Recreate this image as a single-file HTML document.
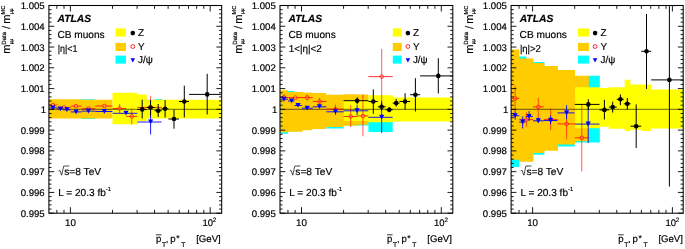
<!DOCTYPE html>
<html><head><meta charset="utf-8"><title>ATLAS CB muons mass scale</title>
<style>
html,body{margin:0;padding:0;background:#fff;}
svg{display:block;font-family:"Liberation Sans",sans-serif;filter:blur(0.35px);}
text{fill:#000;stroke:#000;stroke-width:0.18px;text-rendering:geometricPrecision;}
</style></head>
<body>
<svg width="685" height="249" viewBox="0 0 685 249">
<rect width="685" height="249" fill="#fff"/>
<g transform="translate(0,0)">
<path d="M81.7 99.3H95.3V119.0H81.7Z" fill="#00ffff"/><path d="M155.0 99.0H162.0V100.0H155.0Z" fill="#00ffff"/><path d="M49.2 99.3H81.7V99.8H112.5V118.6H81.7V118.6H49.2Z" fill="#ffcc00"/><path d="M112.5 92.7H137.3V94.5H146.7V99.7H221.7V118.5H146.7V121.0H137.3V124.3H112.5Z" fill="#ffff00"/><line x1="48.9" y1="109.3" x2="221.7" y2="109.3" stroke="#000" stroke-width="0.6"/><line x1="49.2" y1="105.1" x2="57.0" y2="105.1" stroke="#ff0000" stroke-width="0.8"/><circle cx="52.9" cy="105.1" r="1.8" fill="#fff" fill-opacity="0.25" stroke="#ff0000" stroke-width="0.72"/><line x1="57.0" y1="107.4" x2="70.8" y2="107.4" stroke="#ff0000" stroke-width="0.8"/><circle cx="64.2" cy="107.4" r="1.8" fill="#fff" fill-opacity="0.25" stroke="#ff0000" stroke-width="0.72"/><line x1="70.8" y1="106.1" x2="81.7" y2="106.1" stroke="#ff0000" stroke-width="0.8"/><circle cx="76.1" cy="106.1" r="1.8" fill="#fff" fill-opacity="0.25" stroke="#ff0000" stroke-width="0.72"/><line x1="81.7" y1="108.6" x2="95.3" y2="108.6" stroke="#ff0000" stroke-width="0.8"/><circle cx="88.5" cy="108.6" r="1.8" fill="#fff" fill-opacity="0.25" stroke="#ff0000" stroke-width="0.72"/><line x1="95.3" y1="106.0" x2="112.5" y2="106.0" stroke="#ff0000" stroke-width="0.8"/><circle cx="104.4" cy="106.0" r="1.8" fill="#fff" fill-opacity="0.25" stroke="#ff0000" stroke-width="0.72"/><line x1="112.5" y1="108.5" x2="126.2" y2="108.5" stroke="#ff0000" stroke-width="0.8"/><line x1="119.6" y1="104.0" x2="119.6" y2="113.3" stroke="#ff0000" stroke-width="0.65"/><circle cx="119.6" cy="108.5" r="1.8" fill="#fff" fill-opacity="0.25" stroke="#ff0000" stroke-width="0.72"/><line x1="126.2" y1="116.4" x2="137.3" y2="116.4" stroke="#ff0000" stroke-width="0.8"/><line x1="131.8" y1="108.5" x2="131.8" y2="124.3" stroke="#ff0000" stroke-width="0.65"/><circle cx="131.8" cy="116.4" r="1.8" fill="#fff" fill-opacity="0.25" stroke="#ff0000" stroke-width="0.72"/><line x1="137.3" y1="107.4" x2="161.6" y2="107.4" stroke="#ff0000" stroke-width="0.8"/><line x1="150.6" y1="95.8" x2="150.6" y2="115.0" stroke="#ff0000" stroke-width="0.65"/><circle cx="150.6" cy="107.4" r="1.8" fill="#fff" fill-opacity="0.25" stroke="#ff0000" stroke-width="0.72"/><line x1="49.2" y1="107.9" x2="57.0" y2="107.9" stroke="#0000ff" stroke-width="0.9"/><path d="M50.3 105.4L55.5 105.4L52.9 110.2Z" fill="#0000ff"/><line x1="57.0" y1="108.9" x2="63.4" y2="108.9" stroke="#0000ff" stroke-width="0.9"/><path d="M57.9 106.4L63.1 106.4L60.5 111.2Z" fill="#0000ff"/><line x1="63.4" y1="109.8" x2="70.8" y2="109.8" stroke="#0000ff" stroke-width="0.9"/><path d="M64.3 107.3L69.5 107.3L66.9 112.1Z" fill="#0000ff"/><line x1="70.8" y1="111.9" x2="81.7" y2="111.9" stroke="#0000ff" stroke-width="0.9"/><path d="M73.5 109.4L78.7 109.4L76.1 114.2Z" fill="#0000ff"/><line x1="81.7" y1="111.1" x2="95.3" y2="111.1" stroke="#0000ff" stroke-width="0.9"/><path d="M85.8 108.6L91.0 108.6L88.4 113.4Z" fill="#0000ff"/><line x1="95.3" y1="111.5" x2="112.5" y2="111.5" stroke="#0000ff" stroke-width="0.9"/><path d="M101.8 109.0L107.0 109.0L104.4 113.8Z" fill="#0000ff"/><line x1="112.5" y1="113.3" x2="137.3" y2="113.3" stroke="#0000ff" stroke-width="0.9"/><path d="M123.4 110.8L128.6 110.8L126.0 115.6Z" fill="#0000ff"/><line x1="137.3" y1="122.0" x2="161.6" y2="122.0" stroke="#0000ff" stroke-width="0.9"/><line x1="150.6" y1="109.9" x2="150.6" y2="134.5" stroke="#0000ff" stroke-width="0.9"/><path d="M148.0 119.5L153.2 119.5L150.6 124.3Z" fill="#0000ff"/><line x1="137.3" y1="109.4" x2="146.7" y2="109.4" stroke="#000000" stroke-width="1.0"/><line x1="142.2" y1="99.7" x2="142.2" y2="118.4" stroke="#000000" stroke-width="1.0"/><circle cx="142.2" cy="109.4" r="2.3" fill="#000000"/><line x1="146.7" y1="107.5" x2="154.5" y2="107.5" stroke="#000000" stroke-width="1.0"/><line x1="150.5" y1="100.0" x2="150.5" y2="115.5" stroke="#000000" stroke-width="1.0"/><circle cx="150.5" cy="107.5" r="2.3" fill="#000000"/><line x1="154.5" y1="110.7" x2="161.6" y2="110.7" stroke="#000000" stroke-width="1.0"/><line x1="158.2" y1="104.0" x2="158.2" y2="117.0" stroke="#000000" stroke-width="1.0"/><circle cx="158.2" cy="110.7" r="2.3" fill="#000000"/><line x1="161.6" y1="108.8" x2="168.4" y2="108.8" stroke="#000000" stroke-width="1.0"/><line x1="165.1" y1="100.0" x2="165.1" y2="117.5" stroke="#000000" stroke-width="1.0"/><circle cx="165.1" cy="108.8" r="2.3" fill="#000000"/><line x1="168.4" y1="119.0" x2="179.0" y2="119.0" stroke="#000000" stroke-width="1.0"/><line x1="174.0" y1="109.5" x2="174.0" y2="128.7" stroke="#000000" stroke-width="1.0"/><circle cx="174.0" cy="119.0" r="2.3" fill="#000000"/><line x1="179.0" y1="101.5" x2="189.0" y2="101.5" stroke="#000000" stroke-width="1.0"/><line x1="184.3" y1="85.7" x2="184.3" y2="117.5" stroke="#000000" stroke-width="1.0"/><circle cx="184.3" cy="101.5" r="2.3" fill="#000000"/><line x1="189.0" y1="94.4" x2="221.4" y2="94.4" stroke="#000000" stroke-width="1.0"/><line x1="207.2" y1="73.8" x2="207.2" y2="114.5" stroke="#000000" stroke-width="1.0"/><circle cx="207.2" cy="94.4" r="2.3" fill="#000000"/>
<path d="M48.90 5.50L54.20 5.50M221.70 5.50L216.40 5.50M48.90 9.65L51.50 9.65M221.70 9.65L219.10 9.65M48.90 13.81L51.50 13.81M221.70 13.81L219.10 13.81M48.90 17.96L51.50 17.96M221.70 17.96L219.10 17.96M48.90 22.12L51.50 22.12M221.70 22.12L219.10 22.12M48.90 26.27L54.20 26.27M221.70 26.27L216.40 26.27M48.90 30.42L51.50 30.42M221.70 30.42L219.10 30.42M48.90 34.58L51.50 34.58M221.70 34.58L219.10 34.58M48.90 38.73L51.50 38.73M221.70 38.73L219.10 38.73M48.90 42.89L51.50 42.89M221.70 42.89L219.10 42.89M48.90 47.04L54.20 47.04M221.70 47.04L216.40 47.04M48.90 51.19L51.50 51.19M221.70 51.19L219.10 51.19M48.90 55.35L51.50 55.35M221.70 55.35L219.10 55.35M48.90 59.50L51.50 59.50M221.70 59.50L219.10 59.50M48.90 63.66L51.50 63.66M221.70 63.66L219.10 63.66M48.90 67.81L54.20 67.81M221.70 67.81L216.40 67.81M48.90 71.96L51.50 71.96M221.70 71.96L219.10 71.96M48.90 76.12L51.50 76.12M221.70 76.12L219.10 76.12M48.90 80.27L51.50 80.27M221.70 80.27L219.10 80.27M48.90 84.43L51.50 84.43M221.70 84.43L219.10 84.43M48.90 88.58L54.20 88.58M221.70 88.58L216.40 88.58M48.90 92.73L51.50 92.73M221.70 92.73L219.10 92.73M48.90 96.89L51.50 96.89M221.70 96.89L219.10 96.89M48.90 101.04L51.50 101.04M221.70 101.04L219.10 101.04M48.90 105.20L51.50 105.20M221.70 105.20L219.10 105.20M48.90 109.35L54.20 109.35M221.70 109.35L216.40 109.35M48.90 113.50L51.50 113.50M221.70 113.50L219.10 113.50M48.90 117.66L51.50 117.66M221.70 117.66L219.10 117.66M48.90 121.81L51.50 121.81M221.70 121.81L219.10 121.81M48.90 125.97L51.50 125.97M221.70 125.97L219.10 125.97M48.90 130.12L54.20 130.12M221.70 130.12L216.40 130.12M48.90 134.27L51.50 134.27M221.70 134.27L219.10 134.27M48.90 138.43L51.50 138.43M221.70 138.43L219.10 138.43M48.90 142.58L51.50 142.58M221.70 142.58L219.10 142.58M48.90 146.74L51.50 146.74M221.70 146.74L219.10 146.74M48.90 150.89L54.20 150.89M221.70 150.89L216.40 150.89M48.90 155.04L51.50 155.04M221.70 155.04L219.10 155.04M48.90 159.20L51.50 159.20M221.70 159.20L219.10 159.20M48.90 163.35L51.50 163.35M221.70 163.35L219.10 163.35M48.90 167.51L51.50 167.51M221.70 167.51L219.10 167.51M48.90 171.66L54.20 171.66M221.70 171.66L216.40 171.66M48.90 175.81L51.50 175.81M221.70 175.81L219.10 175.81M48.90 179.97L51.50 179.97M221.70 179.97L219.10 179.97M48.90 184.12L51.50 184.12M221.70 184.12L219.10 184.12M48.90 188.28L51.50 188.28M221.70 188.28L219.10 188.28M48.90 192.43L54.20 192.43M221.70 192.43L216.40 192.43M48.90 196.58L51.50 196.58M221.70 196.58L219.10 196.58M48.90 200.74L51.50 200.74M221.70 200.74L219.10 200.74M48.90 204.89L51.50 204.89M221.70 204.89L219.10 204.89M48.90 209.05L51.50 209.05M221.70 209.05L219.10 209.05M48.90 213.20L54.20 213.20M221.70 213.20L216.40 213.20M56.85 213.20L56.85 209.90M56.85 5.50L56.85 8.80M64.00 213.20L64.00 209.90M64.00 5.50L64.00 8.80M70.40 213.20L70.40 207.20M70.40 5.50L70.40 11.50M112.48 213.20L112.48 209.90M112.48 5.50L112.48 8.80M137.10 213.20L137.10 209.90M137.10 5.50L137.10 8.80M154.57 213.20L154.57 209.90M154.57 5.50L154.57 8.80M168.12 213.20L168.12 209.90M168.12 5.50L168.12 8.80M179.19 213.20L179.19 209.90M179.19 5.50L179.19 8.80M188.54 213.20L188.54 209.90M188.54 5.50L188.54 8.80M196.65 213.20L196.65 209.90M196.65 5.50L196.65 8.80M203.80 213.20L203.80 209.90M203.80 5.50L203.80 8.80M210.20 213.20L210.20 207.20M210.20 5.50L210.20 11.50" stroke="#000" stroke-width="0.9" fill="none"/><rect x="48.9" y="5.5" width="172.8" height="207.7" fill="none" stroke="#000" stroke-width="1.05"/>
<text x="44.7" y="9.1" text-anchor="end" font-size="9.6">1.005</text><text x="44.7" y="29.8" text-anchor="end" font-size="9.6">1.004</text><text x="44.7" y="50.6" text-anchor="end" font-size="9.6">1.003</text><text x="44.7" y="71.4" text-anchor="end" font-size="9.6">1.002</text><text x="44.7" y="92.1" text-anchor="end" font-size="9.6">1.001</text><text x="46.2" y="112.9" text-anchor="end" font-size="9.6">1</text><text x="44.7" y="133.7" text-anchor="end" font-size="9.6">0.999</text><text x="44.7" y="154.4" text-anchor="end" font-size="9.6">0.998</text><text x="44.7" y="175.2" text-anchor="end" font-size="9.6">0.997</text><text x="44.7" y="196.0" text-anchor="end" font-size="9.6">0.996</text><text x="44.7" y="216.8" text-anchor="end" font-size="9.6">0.995</text><text x="70.4" y="226.2" text-anchor="middle" font-size="9.8">10</text><text x="202.4" y="226.0" font-size="9.5">10</text><text x="212.8" y="222.1" font-size="6.3">2</text><text x="196.2" y="241.6" font-size="9.6">[GeV]</text><text x="156.0" y="241.6" font-size="9.6">p</text><text x="162.0" y="246.7" font-size="6.7">T</text><text x="165.8" y="241.6" font-size="9.6">,</text><text x="170.3" y="241.6" font-size="9.6">p</text><text x="176.2" y="241.2" font-size="8.5">*</text><text x="181.2" y="246.9" font-size="6.7">T</text><line x1="155.9" y1="234.8" x2="161.5" y2="234.8" stroke="#000" stroke-width="0.8"/><g transform="translate(10.4,53.7) rotate(-90)"><text x="0" y="0" font-size="11">m</text><text x="9.0" y="-4.5" font-size="6.0">Data</text><text x="9.4" y="2.1" font-size="5">μμ</text><text x="24.8" y="0" font-size="11">/</text><text x="30.0" y="0" font-size="11">m</text><text x="39.3" y="-5.1" font-size="5.6">MC</text><text x="39.6" y="2.1" font-size="5">μμ</text></g><text x="57.5" y="21.7" font-size="10.3" font-weight="bold" font-style="italic">ATLAS</text><text x="57.4" y="38.2" font-size="10.15">CB muons</text><text x="57.7" y="51.5" font-size="10" textLength="19.8" lengthAdjust="spacingAndGlyphs">|η|&lt;1</text><text x="64.2" y="175.3" font-size="10.2">s=8 TeV</text><path d="M58.6 171.0L59.8 170.2L61.7 175.2L63.7 166.0L69.3 166.0" fill="none" stroke="#000" stroke-width="0.7"/><text x="58.2" y="195.7" font-size="10.1">L = 20.3 fb<tspan font-size="5.8" dy="-4.3">-1</tspan></text><rect x="115.5" y="28.4" width="10.5" height="8.1" fill="#ffff00"/><rect x="115.5" y="42.9" width="10.5" height="8.1" fill="#ffcc00"/><rect x="115.5" y="55.6" width="10.5" height="8.0" fill="#00ffff"/><circle cx="132.8" cy="33.1" r="2.3" fill="#000"/><circle cx="132.8" cy="46.5" r="1.95" fill="#fff" stroke="#ff0000" stroke-width="0.85"/><path d="M130.5 58.2L135.1 58.2L132.8 62.4Z" fill="#0000ff"/><text x="138.0" y="36.2" font-size="9.9">Z</text><text x="138.0" y="50.2" font-size="9.9">Y</text><text x="138.0" y="62.9" font-size="9.9">J/ψ</text>
</g>
<g transform="translate(231.1,0)">
<path d="M49.2 91.0H57.0V91.0H63.4V92.8H70.8V131.2H63.4V131.2H57.0V133.7H49.2Z" fill="#00ffff"/><path d="M95.3 95.5H112.5V96.0H137.3V100.0H161.6V131.9H137.3V125.6H112.5V128.5H95.3Z" fill="#00ffff"/><path d="M49.2 90.3H57.0V91.9H63.9V92.1H71.4V92.6H81.2V93.0H95.1V94.7H112.6V94.3H126.6V94.4H137.3V124.8H126.6V125.7H112.6V127.0H95.1V129.1H81.2V130.3H71.4V131.7H63.9V131.8H57.0V132.2H49.2Z" fill="#ffcc00"/><path d="M112.6 100.2H137.3V95.3H161.7V97.6H221.7V121.6H161.7V122.3H137.3V121.1H112.6Z" fill="#ffff00"/><line x1="48.9" y1="109.3" x2="221.7" y2="109.3" stroke="#000" stroke-width="0.6"/><line x1="49.2" y1="97.5" x2="57.0" y2="97.5" stroke="#ff0000" stroke-width="0.8"/><line x1="52.9" y1="94.0" x2="52.9" y2="101.5" stroke="#ff0000" stroke-width="0.65"/><circle cx="52.9" cy="97.5" r="1.8" fill="#fff" fill-opacity="0.25" stroke="#ff0000" stroke-width="0.72"/><line x1="57.0" y1="97.6" x2="70.8" y2="97.6" stroke="#ff0000" stroke-width="0.8"/><circle cx="64.2" cy="97.6" r="1.8" fill="#fff" fill-opacity="0.25" stroke="#ff0000" stroke-width="0.72"/><line x1="70.8" y1="97.6" x2="81.7" y2="97.6" stroke="#ff0000" stroke-width="0.8"/><line x1="76.1" y1="94.5" x2="76.1" y2="100.6" stroke="#ff0000" stroke-width="0.65"/><circle cx="76.1" cy="97.6" r="1.8" fill="#fff" fill-opacity="0.25" stroke="#ff0000" stroke-width="0.72"/><line x1="81.7" y1="101.5" x2="95.3" y2="101.5" stroke="#ff0000" stroke-width="0.8"/><line x1="88.5" y1="98.0" x2="88.5" y2="105.0" stroke="#ff0000" stroke-width="0.65"/><circle cx="88.5" cy="101.5" r="1.8" fill="#fff" fill-opacity="0.25" stroke="#ff0000" stroke-width="0.72"/><line x1="95.3" y1="109.2" x2="112.5" y2="109.2" stroke="#ff0000" stroke-width="0.8"/><line x1="104.4" y1="104.6" x2="104.4" y2="114.0" stroke="#ff0000" stroke-width="0.65"/><circle cx="104.4" cy="109.2" r="1.8" fill="#fff" fill-opacity="0.25" stroke="#ff0000" stroke-width="0.72"/><line x1="112.5" y1="116.5" x2="126.2" y2="116.5" stroke="#ff0000" stroke-width="0.8"/><line x1="119.6" y1="105.2" x2="119.6" y2="127.0" stroke="#ff0000" stroke-width="0.65"/><circle cx="119.6" cy="116.5" r="1.8" fill="#fff" fill-opacity="0.25" stroke="#ff0000" stroke-width="0.72"/><line x1="126.2" y1="115.9" x2="137.3" y2="115.9" stroke="#ff0000" stroke-width="0.8"/><line x1="131.8" y1="94.5" x2="131.8" y2="136.3" stroke="#ff0000" stroke-width="0.65"/><circle cx="131.8" cy="115.9" r="1.8" fill="#fff" fill-opacity="0.25" stroke="#ff0000" stroke-width="0.72"/><line x1="137.3" y1="76.6" x2="161.6" y2="76.6" stroke="#ff0000" stroke-width="0.8"/><line x1="150.6" y1="48.9" x2="150.6" y2="104.3" stroke="#ff0000" stroke-width="0.65"/><circle cx="150.6" cy="76.6" r="1.8" fill="#fff" fill-opacity="0.25" stroke="#ff0000" stroke-width="0.72"/><line x1="49.2" y1="99.2" x2="57.0" y2="99.2" stroke="#0000ff" stroke-width="0.9"/><path d="M50.3 96.7L55.5 96.7L52.9 101.5Z" fill="#0000ff"/><line x1="57.0" y1="101.0" x2="63.4" y2="101.0" stroke="#0000ff" stroke-width="0.9"/><path d="M57.9 98.5L63.1 98.5L60.5 103.3Z" fill="#0000ff"/><line x1="63.4" y1="105.5" x2="70.8" y2="105.5" stroke="#0000ff" stroke-width="0.9"/><path d="M64.3 103.0L69.5 103.0L66.9 107.8Z" fill="#0000ff"/><line x1="70.8" y1="108.2" x2="81.7" y2="108.2" stroke="#0000ff" stroke-width="0.9"/><path d="M73.5 105.7L78.7 105.7L76.1 110.5Z" fill="#0000ff"/><line x1="81.7" y1="106.8" x2="95.3" y2="106.8" stroke="#0000ff" stroke-width="0.9"/><path d="M85.8 104.3L91.0 104.3L88.4 109.1Z" fill="#0000ff"/><line x1="95.3" y1="111.8" x2="112.5" y2="111.8" stroke="#0000ff" stroke-width="0.9"/><line x1="104.4" y1="108.0" x2="104.4" y2="114.8" stroke="#0000ff" stroke-width="0.9"/><path d="M101.8 109.3L107.0 109.3L104.4 114.1Z" fill="#0000ff"/><line x1="112.5" y1="110.8" x2="137.3" y2="110.8" stroke="#0000ff" stroke-width="0.9"/><line x1="126.0" y1="105.2" x2="126.0" y2="115.4" stroke="#0000ff" stroke-width="0.9"/><path d="M123.4 108.3L128.6 108.3L126.0 113.1Z" fill="#0000ff"/><line x1="137.3" y1="117.3" x2="161.6" y2="117.3" stroke="#0000ff" stroke-width="0.9"/><line x1="150.6" y1="100.6" x2="150.6" y2="133.0" stroke="#0000ff" stroke-width="0.9"/><path d="M148.0 114.8L153.2 114.8L150.6 119.6Z" fill="#0000ff"/><line x1="112.5" y1="100.7" x2="137.3" y2="100.7" stroke="#000000" stroke-width="1.0"/><line x1="126.1" y1="97.2" x2="126.1" y2="104.4" stroke="#000000" stroke-width="1.0"/><circle cx="126.1" cy="100.7" r="2.3" fill="#000000"/><line x1="137.3" y1="101.5" x2="146.7" y2="101.5" stroke="#000000" stroke-width="1.0"/><line x1="142.2" y1="89.4" x2="142.2" y2="113.8" stroke="#000000" stroke-width="1.0"/><circle cx="142.2" cy="101.5" r="2.3" fill="#000000"/><line x1="146.7" y1="106.8" x2="154.5" y2="106.8" stroke="#000000" stroke-width="1.0"/><line x1="150.5" y1="103.0" x2="150.5" y2="110.5" stroke="#000000" stroke-width="1.0"/><circle cx="150.5" cy="106.8" r="2.3" fill="#000000"/><line x1="154.5" y1="109.7" x2="161.6" y2="109.7" stroke="#000000" stroke-width="1.0"/><line x1="158.2" y1="107.0" x2="158.2" y2="112.3" stroke="#000000" stroke-width="1.0"/><circle cx="158.2" cy="109.7" r="2.3" fill="#000000"/><line x1="161.6" y1="103.1" x2="168.4" y2="103.1" stroke="#000000" stroke-width="1.0"/><line x1="165.1" y1="99.1" x2="165.1" y2="106.6" stroke="#000000" stroke-width="1.0"/><circle cx="165.1" cy="103.1" r="2.3" fill="#000000"/><line x1="168.4" y1="101.5" x2="179.0" y2="101.5" stroke="#000000" stroke-width="1.0"/><line x1="174.0" y1="93.2" x2="174.0" y2="109.5" stroke="#000000" stroke-width="1.0"/><circle cx="174.0" cy="101.5" r="2.3" fill="#000000"/><line x1="179.0" y1="94.7" x2="189.0" y2="94.7" stroke="#000000" stroke-width="1.0"/><line x1="184.3" y1="78.2" x2="184.3" y2="111.5" stroke="#000000" stroke-width="1.0"/><circle cx="184.3" cy="94.7" r="2.3" fill="#000000"/><line x1="189.0" y1="75.9" x2="221.4" y2="75.9" stroke="#000000" stroke-width="1.0"/><line x1="207.2" y1="58.2" x2="207.2" y2="93.4" stroke="#000000" stroke-width="1.0"/><circle cx="207.2" cy="75.9" r="2.3" fill="#000000"/>
<path d="M48.90 5.50L54.20 5.50M221.70 5.50L216.40 5.50M48.90 9.65L51.50 9.65M221.70 9.65L219.10 9.65M48.90 13.81L51.50 13.81M221.70 13.81L219.10 13.81M48.90 17.96L51.50 17.96M221.70 17.96L219.10 17.96M48.90 22.12L51.50 22.12M221.70 22.12L219.10 22.12M48.90 26.27L54.20 26.27M221.70 26.27L216.40 26.27M48.90 30.42L51.50 30.42M221.70 30.42L219.10 30.42M48.90 34.58L51.50 34.58M221.70 34.58L219.10 34.58M48.90 38.73L51.50 38.73M221.70 38.73L219.10 38.73M48.90 42.89L51.50 42.89M221.70 42.89L219.10 42.89M48.90 47.04L54.20 47.04M221.70 47.04L216.40 47.04M48.90 51.19L51.50 51.19M221.70 51.19L219.10 51.19M48.90 55.35L51.50 55.35M221.70 55.35L219.10 55.35M48.90 59.50L51.50 59.50M221.70 59.50L219.10 59.50M48.90 63.66L51.50 63.66M221.70 63.66L219.10 63.66M48.90 67.81L54.20 67.81M221.70 67.81L216.40 67.81M48.90 71.96L51.50 71.96M221.70 71.96L219.10 71.96M48.90 76.12L51.50 76.12M221.70 76.12L219.10 76.12M48.90 80.27L51.50 80.27M221.70 80.27L219.10 80.27M48.90 84.43L51.50 84.43M221.70 84.43L219.10 84.43M48.90 88.58L54.20 88.58M221.70 88.58L216.40 88.58M48.90 92.73L51.50 92.73M221.70 92.73L219.10 92.73M48.90 96.89L51.50 96.89M221.70 96.89L219.10 96.89M48.90 101.04L51.50 101.04M221.70 101.04L219.10 101.04M48.90 105.20L51.50 105.20M221.70 105.20L219.10 105.20M48.90 109.35L54.20 109.35M221.70 109.35L216.40 109.35M48.90 113.50L51.50 113.50M221.70 113.50L219.10 113.50M48.90 117.66L51.50 117.66M221.70 117.66L219.10 117.66M48.90 121.81L51.50 121.81M221.70 121.81L219.10 121.81M48.90 125.97L51.50 125.97M221.70 125.97L219.10 125.97M48.90 130.12L54.20 130.12M221.70 130.12L216.40 130.12M48.90 134.27L51.50 134.27M221.70 134.27L219.10 134.27M48.90 138.43L51.50 138.43M221.70 138.43L219.10 138.43M48.90 142.58L51.50 142.58M221.70 142.58L219.10 142.58M48.90 146.74L51.50 146.74M221.70 146.74L219.10 146.74M48.90 150.89L54.20 150.89M221.70 150.89L216.40 150.89M48.90 155.04L51.50 155.04M221.70 155.04L219.10 155.04M48.90 159.20L51.50 159.20M221.70 159.20L219.10 159.20M48.90 163.35L51.50 163.35M221.70 163.35L219.10 163.35M48.90 167.51L51.50 167.51M221.70 167.51L219.10 167.51M48.90 171.66L54.20 171.66M221.70 171.66L216.40 171.66M48.90 175.81L51.50 175.81M221.70 175.81L219.10 175.81M48.90 179.97L51.50 179.97M221.70 179.97L219.10 179.97M48.90 184.12L51.50 184.12M221.70 184.12L219.10 184.12M48.90 188.28L51.50 188.28M221.70 188.28L219.10 188.28M48.90 192.43L54.20 192.43M221.70 192.43L216.40 192.43M48.90 196.58L51.50 196.58M221.70 196.58L219.10 196.58M48.90 200.74L51.50 200.74M221.70 200.74L219.10 200.74M48.90 204.89L51.50 204.89M221.70 204.89L219.10 204.89M48.90 209.05L51.50 209.05M221.70 209.05L219.10 209.05M48.90 213.20L54.20 213.20M221.70 213.20L216.40 213.20M56.85 213.20L56.85 209.90M56.85 5.50L56.85 8.80M64.00 213.20L64.00 209.90M64.00 5.50L64.00 8.80M70.40 213.20L70.40 207.20M70.40 5.50L70.40 11.50M112.48 213.20L112.48 209.90M112.48 5.50L112.48 8.80M137.10 213.20L137.10 209.90M137.10 5.50L137.10 8.80M154.57 213.20L154.57 209.90M154.57 5.50L154.57 8.80M168.12 213.20L168.12 209.90M168.12 5.50L168.12 8.80M179.19 213.20L179.19 209.90M179.19 5.50L179.19 8.80M188.54 213.20L188.54 209.90M188.54 5.50L188.54 8.80M196.65 213.20L196.65 209.90M196.65 5.50L196.65 8.80M203.80 213.20L203.80 209.90M203.80 5.50L203.80 8.80M210.20 213.20L210.20 207.20M210.20 5.50L210.20 11.50" stroke="#000" stroke-width="0.9" fill="none"/><rect x="48.9" y="5.5" width="172.8" height="207.7" fill="none" stroke="#000" stroke-width="1.05"/>
<text x="44.7" y="9.1" text-anchor="end" font-size="9.6">1.005</text><text x="44.7" y="29.8" text-anchor="end" font-size="9.6">1.004</text><text x="44.7" y="50.6" text-anchor="end" font-size="9.6">1.003</text><text x="44.7" y="71.4" text-anchor="end" font-size="9.6">1.002</text><text x="44.7" y="92.1" text-anchor="end" font-size="9.6">1.001</text><text x="46.2" y="112.9" text-anchor="end" font-size="9.6">1</text><text x="44.7" y="133.7" text-anchor="end" font-size="9.6">0.999</text><text x="44.7" y="154.4" text-anchor="end" font-size="9.6">0.998</text><text x="44.7" y="175.2" text-anchor="end" font-size="9.6">0.997</text><text x="44.7" y="196.0" text-anchor="end" font-size="9.6">0.996</text><text x="44.7" y="216.8" text-anchor="end" font-size="9.6">0.995</text><text x="70.4" y="226.2" text-anchor="middle" font-size="9.8">10</text><text x="202.9" y="226.0" font-size="9.5">10</text><text x="213.3" y="222.1" font-size="6.3">2</text><text x="196.2" y="241.6" font-size="9.6">[GeV]</text><text x="156.0" y="241.6" font-size="9.6">p</text><text x="162.0" y="246.7" font-size="6.7">T</text><text x="165.8" y="241.6" font-size="9.6">,</text><text x="170.3" y="241.6" font-size="9.6">p</text><text x="176.2" y="241.2" font-size="8.5">*</text><text x="181.2" y="246.9" font-size="6.7">T</text><line x1="155.9" y1="234.8" x2="161.5" y2="234.8" stroke="#000" stroke-width="0.8"/><g transform="translate(10.4,53.7) rotate(-90)"><text x="0" y="0" font-size="11">m</text><text x="9.0" y="-4.5" font-size="6.0">Data</text><text x="9.4" y="2.1" font-size="5">μμ</text><text x="24.8" y="0" font-size="11">/</text><text x="30.0" y="0" font-size="11">m</text><text x="39.3" y="-5.1" font-size="5.6">MC</text><text x="39.6" y="2.1" font-size="5">μμ</text></g><text x="57.5" y="21.7" font-size="10.3" font-weight="bold" font-style="italic">ATLAS</text><text x="57.4" y="38.2" font-size="10.15">CB muons</text><text x="57.7" y="51.5" font-size="10" textLength="33.0" lengthAdjust="spacingAndGlyphs">1&lt;|η|&lt;2</text><text x="64.2" y="175.3" font-size="10.2">s=8 TeV</text><path d="M58.6 171.0L59.8 170.2L61.7 175.2L63.7 166.0L69.3 166.0" fill="none" stroke="#000" stroke-width="0.7"/><text x="58.2" y="195.7" font-size="10.1">L = 20.3 fb<tspan font-size="5.8" dy="-4.3">-1</tspan></text><rect x="161.7" y="28.4" width="8.9" height="8.1" fill="#ffff00"/><rect x="161.7" y="42.9" width="8.9" height="8.1" fill="#ffcc00"/><rect x="161.7" y="55.6" width="8.9" height="8.0" fill="#00ffff"/><circle cx="176.8" cy="33.1" r="2.3" fill="#000"/><circle cx="176.8" cy="46.5" r="1.95" fill="#fff" stroke="#ff0000" stroke-width="0.85"/><path d="M174.5 58.2L179.1 58.2L176.8 62.4Z" fill="#0000ff"/><text x="181.8" y="36.2" font-size="9.9">Z</text><text x="181.8" y="50.2" font-size="9.9">Y</text><text x="181.8" y="62.9" font-size="9.9">J/ψ</text>
</g>
<g transform="translate(462.2,0)">
<path d="M49.2 50.2H57.0V56.5H64.2V161.2H57.0V166.9H49.2Z" fill="#00ffff"/><path d="M71.2 62.1H82.2V154.8H71.2Z" fill="#00ffff"/><path d="M95.8 70.7H112.4V76.5H126.6V75.8H137.6V142.6H126.6V142.6H112.4V146.6H95.8Z" fill="#00ffff"/><path d="M49.2 49.5H57.0V58.5H71.2V63.1H82.2V66.1H95.8V70.0H112.8V75.8H126.6V141.3H112.8V144.5H95.8V150.8H82.2V153.1H71.2V161.7H57.0V159.7H49.2Z" fill="#ffcc00"/><path d="M112.9 87.3H137.5V88.1H146.6V87.2H162.5V79.8H168.3V84.4H179.1V84.4H189.0V89.4H221.0V128.6H189.0V131.1H179.1V129.8H168.3V131.1H162.5V128.7H146.6V126.7H137.5V128.2H112.9Z" fill="#ffff00"/><line x1="48.9" y1="109.3" x2="221.0" y2="109.3" stroke="#000" stroke-width="0.6"/><line x1="49.2" y1="98.4" x2="57.0" y2="98.4" stroke="#ff0000" stroke-width="0.8"/><line x1="52.9" y1="85.9" x2="52.9" y2="111.0" stroke="#ff0000" stroke-width="0.65"/><circle cx="52.9" cy="98.4" r="1.8" fill="#fff" fill-opacity="0.25" stroke="#ff0000" stroke-width="0.72"/><line x1="57.0" y1="119.6" x2="70.8" y2="119.6" stroke="#ff0000" stroke-width="0.8"/><line x1="64.2" y1="112.4" x2="64.2" y2="126.6" stroke="#ff0000" stroke-width="0.65"/><circle cx="64.2" cy="119.6" r="1.8" fill="#fff" fill-opacity="0.25" stroke="#ff0000" stroke-width="0.72"/><line x1="70.8" y1="106.9" x2="81.7" y2="106.9" stroke="#ff0000" stroke-width="0.8"/><line x1="76.1" y1="98.0" x2="76.1" y2="119.7" stroke="#ff0000" stroke-width="0.65"/><circle cx="76.1" cy="106.9" r="1.8" fill="#fff" fill-opacity="0.25" stroke="#ff0000" stroke-width="0.72"/><line x1="81.7" y1="119.4" x2="95.3" y2="119.4" stroke="#ff0000" stroke-width="0.8"/><line x1="88.5" y1="108.5" x2="88.5" y2="130.2" stroke="#ff0000" stroke-width="0.65"/><circle cx="88.5" cy="119.4" r="1.8" fill="#fff" fill-opacity="0.25" stroke="#ff0000" stroke-width="0.72"/><line x1="95.3" y1="123.9" x2="112.5" y2="123.9" stroke="#ff0000" stroke-width="0.8"/><line x1="104.4" y1="108.4" x2="104.4" y2="139.4" stroke="#ff0000" stroke-width="0.65"/><circle cx="104.4" cy="123.9" r="1.8" fill="#fff" fill-opacity="0.25" stroke="#ff0000" stroke-width="0.72"/><line x1="112.5" y1="137.8" x2="126.2" y2="137.8" stroke="#ff0000" stroke-width="0.8"/><line x1="119.6" y1="104.5" x2="119.6" y2="171.4" stroke="#ff0000" stroke-width="0.65"/><circle cx="119.6" cy="137.8" r="1.8" fill="#fff" fill-opacity="0.25" stroke="#ff0000" stroke-width="0.72"/><line x1="49.2" y1="115.7" x2="57.0" y2="115.7" stroke="#0000ff" stroke-width="0.9"/><line x1="52.9" y1="111.1" x2="52.9" y2="119.7" stroke="#0000ff" stroke-width="0.9"/><path d="M50.3 113.2L55.5 113.2L52.9 118.0Z" fill="#0000ff"/><line x1="57.0" y1="122.1" x2="63.4" y2="122.1" stroke="#0000ff" stroke-width="0.9"/><line x1="60.5" y1="116.4" x2="60.5" y2="128.5" stroke="#0000ff" stroke-width="0.9"/><path d="M57.9 119.6L63.1 119.6L60.5 124.4Z" fill="#0000ff"/><line x1="63.4" y1="116.4" x2="70.8" y2="116.4" stroke="#0000ff" stroke-width="0.9"/><line x1="66.9" y1="111.1" x2="66.9" y2="121.0" stroke="#0000ff" stroke-width="0.9"/><path d="M64.3 113.9L69.5 113.9L66.9 118.7Z" fill="#0000ff"/><line x1="70.8" y1="120.8" x2="81.7" y2="120.8" stroke="#0000ff" stroke-width="0.9"/><line x1="76.1" y1="117.5" x2="76.1" y2="122.9" stroke="#0000ff" stroke-width="0.9"/><path d="M73.5 118.3L78.7 118.3L76.1 123.1Z" fill="#0000ff"/><line x1="81.7" y1="120.5" x2="95.3" y2="120.5" stroke="#0000ff" stroke-width="0.9"/><line x1="88.4" y1="115.7" x2="88.4" y2="124.3" stroke="#0000ff" stroke-width="0.9"/><path d="M85.8 118.0L91.0 118.0L88.4 122.8Z" fill="#0000ff"/><line x1="95.3" y1="112.9" x2="112.5" y2="112.9" stroke="#0000ff" stroke-width="0.9"/><line x1="104.4" y1="105.2" x2="104.4" y2="119.2" stroke="#0000ff" stroke-width="0.9"/><path d="M101.8 110.4L107.0 110.4L104.4 115.2Z" fill="#0000ff"/><line x1="112.5" y1="124.1" x2="137.3" y2="124.1" stroke="#0000ff" stroke-width="0.9"/><line x1="126.0" y1="104.5" x2="126.0" y2="143.0" stroke="#0000ff" stroke-width="0.9"/><path d="M123.4 121.6L128.6 121.6L126.0 126.4Z" fill="#0000ff"/><line x1="112.5" y1="104.4" x2="137.3" y2="104.4" stroke="#000000" stroke-width="1.0"/><line x1="126.1" y1="99.2" x2="126.1" y2="110.0" stroke="#000000" stroke-width="1.0"/><circle cx="126.1" cy="104.4" r="2.3" fill="#000000"/><line x1="137.3" y1="109.9" x2="146.7" y2="109.9" stroke="#000000" stroke-width="1.0"/><line x1="142.2" y1="99.8" x2="142.2" y2="119.5" stroke="#000000" stroke-width="1.0"/><circle cx="142.2" cy="109.9" r="2.3" fill="#000000"/><line x1="146.7" y1="107.1" x2="154.5" y2="107.1" stroke="#000000" stroke-width="1.0"/><line x1="150.5" y1="101.6" x2="150.5" y2="112.6" stroke="#000000" stroke-width="1.0"/><circle cx="150.5" cy="107.1" r="2.3" fill="#000000"/><line x1="154.5" y1="99.3" x2="161.6" y2="99.3" stroke="#000000" stroke-width="1.0"/><line x1="158.2" y1="94.4" x2="158.2" y2="105.2" stroke="#000000" stroke-width="1.0"/><circle cx="158.2" cy="99.3" r="2.3" fill="#000000"/><line x1="161.6" y1="103.8" x2="168.4" y2="103.8" stroke="#000000" stroke-width="1.0"/><line x1="165.1" y1="98.0" x2="165.1" y2="109.8" stroke="#000000" stroke-width="1.0"/><circle cx="165.1" cy="103.8" r="2.3" fill="#000000"/><line x1="168.4" y1="126.2" x2="179.0" y2="126.2" stroke="#000000" stroke-width="1.0"/><line x1="174.0" y1="104.4" x2="174.0" y2="148.0" stroke="#000000" stroke-width="1.0"/><circle cx="174.0" cy="126.2" r="2.3" fill="#000000"/><line x1="179.0" y1="51.3" x2="189.0" y2="51.3" stroke="#000000" stroke-width="1.0"/><line x1="184.3" y1="14.0" x2="184.3" y2="89.0" stroke="#000000" stroke-width="1.0"/><circle cx="184.3" cy="51.3" r="2.3" fill="#000000"/><line x1="189.0" y1="79.9" x2="221.4" y2="79.9" stroke="#000000" stroke-width="1.0"/><line x1="207.2" y1="5.5" x2="207.2" y2="186.5" stroke="#000000" stroke-width="1.0"/><circle cx="207.2" cy="79.9" r="2.3" fill="#000000"/>
<path d="M48.90 5.50L54.20 5.50M221.00 5.50L215.70 5.50M48.90 9.65L51.50 9.65M221.00 9.65L218.40 9.65M48.90 13.81L51.50 13.81M221.00 13.81L218.40 13.81M48.90 17.96L51.50 17.96M221.00 17.96L218.40 17.96M48.90 22.12L51.50 22.12M221.00 22.12L218.40 22.12M48.90 26.27L54.20 26.27M221.00 26.27L215.70 26.27M48.90 30.42L51.50 30.42M221.00 30.42L218.40 30.42M48.90 34.58L51.50 34.58M221.00 34.58L218.40 34.58M48.90 38.73L51.50 38.73M221.00 38.73L218.40 38.73M48.90 42.89L51.50 42.89M221.00 42.89L218.40 42.89M48.90 47.04L54.20 47.04M221.00 47.04L215.70 47.04M48.90 51.19L51.50 51.19M221.00 51.19L218.40 51.19M48.90 55.35L51.50 55.35M221.00 55.35L218.40 55.35M48.90 59.50L51.50 59.50M221.00 59.50L218.40 59.50M48.90 63.66L51.50 63.66M221.00 63.66L218.40 63.66M48.90 67.81L54.20 67.81M221.00 67.81L215.70 67.81M48.90 71.96L51.50 71.96M221.00 71.96L218.40 71.96M48.90 76.12L51.50 76.12M221.00 76.12L218.40 76.12M48.90 80.27L51.50 80.27M221.00 80.27L218.40 80.27M48.90 84.43L51.50 84.43M221.00 84.43L218.40 84.43M48.90 88.58L54.20 88.58M221.00 88.58L215.70 88.58M48.90 92.73L51.50 92.73M221.00 92.73L218.40 92.73M48.90 96.89L51.50 96.89M221.00 96.89L218.40 96.89M48.90 101.04L51.50 101.04M221.00 101.04L218.40 101.04M48.90 105.20L51.50 105.20M221.00 105.20L218.40 105.20M48.90 109.35L54.20 109.35M221.00 109.35L215.70 109.35M48.90 113.50L51.50 113.50M221.00 113.50L218.40 113.50M48.90 117.66L51.50 117.66M221.00 117.66L218.40 117.66M48.90 121.81L51.50 121.81M221.00 121.81L218.40 121.81M48.90 125.97L51.50 125.97M221.00 125.97L218.40 125.97M48.90 130.12L54.20 130.12M221.00 130.12L215.70 130.12M48.90 134.27L51.50 134.27M221.00 134.27L218.40 134.27M48.90 138.43L51.50 138.43M221.00 138.43L218.40 138.43M48.90 142.58L51.50 142.58M221.00 142.58L218.40 142.58M48.90 146.74L51.50 146.74M221.00 146.74L218.40 146.74M48.90 150.89L54.20 150.89M221.00 150.89L215.70 150.89M48.90 155.04L51.50 155.04M221.00 155.04L218.40 155.04M48.90 159.20L51.50 159.20M221.00 159.20L218.40 159.20M48.90 163.35L51.50 163.35M221.00 163.35L218.40 163.35M48.90 167.51L51.50 167.51M221.00 167.51L218.40 167.51M48.90 171.66L54.20 171.66M221.00 171.66L215.70 171.66M48.90 175.81L51.50 175.81M221.00 175.81L218.40 175.81M48.90 179.97L51.50 179.97M221.00 179.97L218.40 179.97M48.90 184.12L51.50 184.12M221.00 184.12L218.40 184.12M48.90 188.28L51.50 188.28M221.00 188.28L218.40 188.28M48.90 192.43L54.20 192.43M221.00 192.43L215.70 192.43M48.90 196.58L51.50 196.58M221.00 196.58L218.40 196.58M48.90 200.74L51.50 200.74M221.00 200.74L218.40 200.74M48.90 204.89L51.50 204.89M221.00 204.89L218.40 204.89M48.90 209.05L51.50 209.05M221.00 209.05L218.40 209.05M48.90 213.20L54.20 213.20M221.00 213.20L215.70 213.20M56.85 213.20L56.85 209.90M56.85 5.50L56.85 8.80M64.00 213.20L64.00 209.90M64.00 5.50L64.00 8.80M70.40 213.20L70.40 207.20M70.40 5.50L70.40 11.50M112.48 213.20L112.48 209.90M112.48 5.50L112.48 8.80M137.10 213.20L137.10 209.90M137.10 5.50L137.10 8.80M154.57 213.20L154.57 209.90M154.57 5.50L154.57 8.80M168.12 213.20L168.12 209.90M168.12 5.50L168.12 8.80M179.19 213.20L179.19 209.90M179.19 5.50L179.19 8.80M188.54 213.20L188.54 209.90M188.54 5.50L188.54 8.80M196.65 213.20L196.65 209.90M196.65 5.50L196.65 8.80M203.80 213.20L203.80 209.90M203.80 5.50L203.80 8.80M210.20 213.20L210.20 207.20M210.20 5.50L210.20 11.50" stroke="#000" stroke-width="0.9" fill="none"/><rect x="48.9" y="5.5" width="172.1" height="207.7" fill="none" stroke="#000" stroke-width="1.05"/>
<text x="44.7" y="9.1" text-anchor="end" font-size="9.6">1.005</text><text x="44.7" y="29.8" text-anchor="end" font-size="9.6">1.004</text><text x="44.7" y="50.6" text-anchor="end" font-size="9.6">1.003</text><text x="44.7" y="71.4" text-anchor="end" font-size="9.6">1.002</text><text x="44.7" y="92.1" text-anchor="end" font-size="9.6">1.001</text><text x="46.2" y="112.9" text-anchor="end" font-size="9.6">1</text><text x="44.7" y="133.7" text-anchor="end" font-size="9.6">0.999</text><text x="44.7" y="154.4" text-anchor="end" font-size="9.6">0.998</text><text x="44.7" y="175.2" text-anchor="end" font-size="9.6">0.997</text><text x="44.7" y="196.0" text-anchor="end" font-size="9.6">0.996</text><text x="44.7" y="216.8" text-anchor="end" font-size="9.6">0.995</text><text x="70.4" y="226.2" text-anchor="middle" font-size="9.8">10</text><text x="203.2" y="226.0" font-size="9.5">10</text><text x="213.6" y="222.1" font-size="6.3">2</text><text x="196.2" y="241.6" font-size="9.6">[GeV]</text><text x="156.0" y="241.6" font-size="9.6">p</text><text x="162.0" y="246.7" font-size="6.7">T</text><text x="165.8" y="241.6" font-size="9.6">,</text><text x="170.3" y="241.6" font-size="9.6">p</text><text x="176.2" y="241.2" font-size="8.5">*</text><text x="181.2" y="246.9" font-size="6.7">T</text><line x1="155.9" y1="234.8" x2="161.5" y2="234.8" stroke="#000" stroke-width="0.8"/><g transform="translate(10.4,53.7) rotate(-90)"><text x="0" y="0" font-size="11">m</text><text x="9.0" y="-4.5" font-size="6.0">Data</text><text x="9.4" y="2.1" font-size="5">μμ</text><text x="24.8" y="0" font-size="11">/</text><text x="30.0" y="0" font-size="11">m</text><text x="39.3" y="-5.1" font-size="5.6">MC</text><text x="39.6" y="2.1" font-size="5">μμ</text></g><text x="57.5" y="21.7" font-size="10.3" font-weight="bold" font-style="italic">ATLAS</text><text x="57.4" y="38.2" font-size="10.15">CB muons</text><text x="57.7" y="51.5" font-size="10" textLength="21.0" lengthAdjust="spacingAndGlyphs">|η|&gt;2</text><text x="64.2" y="175.3" font-size="10.2">s=8 TeV</text><path d="M58.6 171.0L59.8 170.2L61.7 175.2L63.7 166.0L69.3 166.0" fill="none" stroke="#000" stroke-width="0.7"/><text x="58.2" y="195.7" font-size="10.1">L = 20.3 fb<tspan font-size="5.8" dy="-4.3">-1</tspan></text><rect x="115.8" y="28.4" width="10.9" height="8.1" fill="#ffff00"/><rect x="115.8" y="42.9" width="10.9" height="8.1" fill="#ffcc00"/><rect x="115.8" y="55.6" width="10.9" height="8.0" fill="#00ffff"/><circle cx="132.9" cy="33.1" r="2.3" fill="#000"/><circle cx="132.9" cy="46.5" r="1.95" fill="#fff" stroke="#ff0000" stroke-width="0.85"/><path d="M130.6 58.2L135.2 58.2L132.9 62.4Z" fill="#0000ff"/><text x="138.3" y="36.2" font-size="9.9">Z</text><text x="138.3" y="50.2" font-size="9.9">Y</text><text x="138.3" y="62.9" font-size="9.9">J/ψ</text>
</g>
</svg>
</body></html>
